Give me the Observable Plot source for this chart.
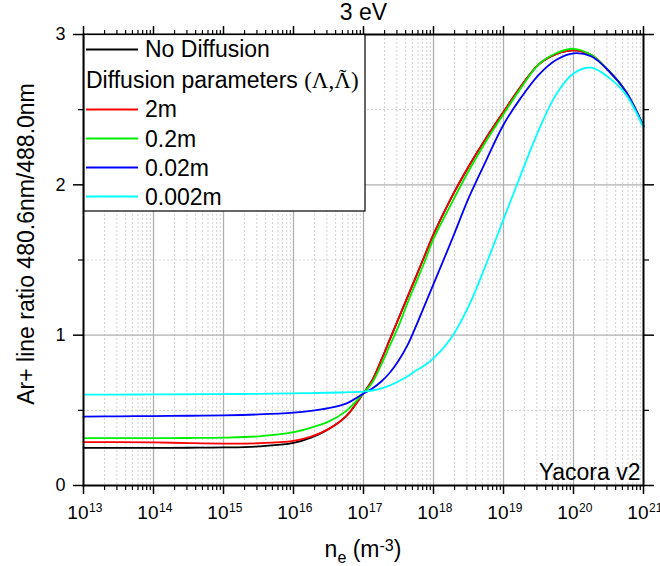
<!DOCTYPE html>
<html>
<head>
<meta charset="utf-8">
<script src="https://cdn.jsdelivr.net/npm/d3@7"></script>
<script src="https://cdn.jsdelivr.net/npm/@observablehq/plot@0.6"></script>
<style>
  body { margin: 0; background: #fff; }
  svg { display: block; }
</style>
</head>
<body>
<div id="chart"></div>
<script>
// ---- data (log10 of n_e in m^-3, and line ratio values) ----
const exponents = [13, 13.5, 14, 14.5, 15, 15.5, 16, 16.25, 16.5, 16.75, 17, 17.125, 17.25, 17.375, 17.5, 17.625, 17.75, 17.875, 18, 18.25, 18.5, 18.75, 19, 19.25, 19.5, 19.75, 20, 20.25, 20.5, 20.75, 21];
const noDiffusion = [0.250, 0.250, 0.250, 0.251, 0.253, 0.260, 0.283, 0.318, 0.375, 0.46, 0.615, 0.70, 0.83, 0.97, 1.11, 1.25, 1.39, 1.53, 1.67, 1.91, 2.12, 2.31, 2.485, 2.655, 2.80, 2.87, 2.895, 2.865, 2.76, 2.62, 2.39];
const diff2m = [0.288, 0.289, 0.287, 0.282, 0.279, 0.281, 0.297, 0.325, 0.375, 0.46, 0.615, 0.70, 0.83, 0.97, 1.11, 1.25, 1.39, 1.53, 1.67, 1.91, 2.12, 2.31, 2.485, 2.655, 2.80, 2.87, 2.895, 2.865, 2.76, 2.62, 2.39];
const diff02m = [0.315, 0.315, 0.315, 0.316, 0.318, 0.327, 0.355, 0.385, 0.425, 0.495, 0.615, 0.685, 0.80, 0.93, 1.06, 1.21, 1.35, 1.49, 1.64, 1.87, 2.09, 2.29, 2.47, 2.645, 2.80, 2.875, 2.905, 2.865, 2.76, 2.62, 2.39];
const diff002m = [0.458, 0.460, 0.462, 0.464, 0.467, 0.473, 0.485, 0.497, 0.515, 0.545, 0.612, 0.645, 0.69, 0.75, 0.83, 0.93, 1.06, 1.20, 1.34, 1.62, 1.91, 2.16, 2.40, 2.58, 2.73, 2.83, 2.875, 2.855, 2.76, 2.62, 2.39];
const diff0002m = [0.605, 0.605, 0.606, 0.607, 0.608, 0.610, 0.613, 0.615, 0.617, 0.620, 0.625, 0.632, 0.645, 0.665, 0.693, 0.725, 0.765, 0.80, 0.845, 0.98, 1.19, 1.47, 1.77, 2.07, 2.36, 2.60, 2.74, 2.78, 2.715, 2.60, 2.38];

const seriesNames = ["No Diffusion", "2m", "0.2m", "0.02m", "0.002m"];
const seriesColors = ["#000000", "#ff0000", "#00ee00", "#0000ff", "#00ffff"];
const seriesValues = [noDiffusion, diff2m, diff02m, diff002m, diff0002m];

const xDecades = [13, 14, 15, 16, 17, 18, 19, 20, 21];
const yTicks = [0, 1, 2, 3];
const yMinorTicks = [0.5, 1.5, 2.5];

const titleText = "3 eV";
const yLabel = "Ar+ line ratio 480.6nm/488.0nm";
const watermark = "Yacora v2";
const legendHeader = "Diffusion parameters ";

// ---- derived tables ----
const rows = [];
seriesValues.forEach((vals, i) => {
  vals.forEach((v, j) => rows.push({ series: seriesNames[i], ne: Math.pow(10, exponents[j]), ratio: v }));
});
const xMajor = xDecades.map(e => Math.pow(10, e));
const xMinor = [];
xDecades.slice(0, -1).forEach(e => { for (let k = 2; k <= 9; k++) xMinor.push(k * Math.pow(10, e)); });

const FONT = "'Liberation Sans', Arial, sans-serif";
const SERIF = "'Liberation Serif', 'Times New Roman', serif";

const plot = Plot.plot({
  width: 660,
  height: 566,
  marginLeft: 83,
  marginRight: 17,
  marginTop: 34,
  marginBottom: 81,
  style: { fontFamily: FONT, background: "#fff", color: "#000" },
  x: { type: "log", domain: [1e13, 1e21], axis: null },
  y: { domain: [0, 3], axis: null },
  color: { domain: seriesNames, range: seriesColors },
  marks: [
    // grid
    Plot.ruleX(xMinor, { stroke: "#d2d2d2", strokeDasharray: "2,2", strokeWidth: 1 }),
    Plot.ruleY(yMinorTicks, { stroke: "#d2d2d2", strokeDasharray: "2,2", strokeWidth: 1 }),
    Plot.ruleX(xMajor.slice(1, -1), { stroke: "#b0b0b0", strokeWidth: 1.3 }),
    Plot.ruleY([1, 2], { stroke: "#b0b0b0", strokeWidth: 1.3 }),
    // curves
    Plot.line(rows, { x: "ne", y: "ratio", z: "series", stroke: "series", curve: "catmull-rom", strokeWidth: 1.8 }),
    // axes
    Plot.axisX({ anchor: "bottom", ticks: xMajor, tickSize: 9, tickFormat: () => "", label: null, strokeWidth: 1.5 }),
    Plot.axisX({ anchor: "bottom", ticks: xMinor, tickSize: 5, tickFormat: () => "", label: null, strokeWidth: 1.2 }),
    Plot.axisX({ anchor: "top", ticks: xMajor, tickSize: 9, tickFormat: () => "", label: null, strokeWidth: 1.5 }),
    Plot.axisX({ anchor: "top", ticks: xMinor, tickSize: 5, tickFormat: () => "", label: null, strokeWidth: 1.2 }),
    Plot.axisY({ anchor: "left", ticks: yTicks, tickSize: 10, tickPadding: 8, fontSize: 18, tickFormat: d => String(d), label: null, strokeWidth: 1.5 }),
    Plot.axisY({ anchor: "left", ticks: yMinorTicks, tickSize: 5, tickFormat: () => "", label: null, strokeWidth: 1.2 }),
    Plot.axisY({ anchor: "right", ticks: yTicks, tickSize: 10, tickFormat: () => "", label: null, strokeWidth: 1.5 }),
    Plot.axisY({ anchor: "right", ticks: yMinorTicks, tickSize: 5, tickFormat: () => "", label: null, strokeWidth: 1.2 }),
    Plot.frame({ stroke: "#000", strokeWidth: 2 }),
    // x tick labels 10^n
    Plot.text(xMajor, { x: d => d, frameAnchor: "bottom", dy: 33, dx: 5, text: () => "10", textAnchor: "end", lineAnchor: "bottom", fontSize: 19 }),
    Plot.text(xMajor, { x: d => d, frameAnchor: "bottom", dy: 26, dx: 5.5, text: d => String(Math.round(Math.log10(d))), textAnchor: "start", lineAnchor: "bottom", fontSize: 12 }),
    // title and labels
    Plot.text([titleText], { text: d => d, frameAnchor: "top", dy: -15, lineAnchor: "bottom", fontSize: 23 }),
    Plot.text([yLabel], { text: d => d, frameAnchor: "left", rotate: -90, dx: -50, dy: -16, lineAnchor: "bottom", textAnchor: "middle", fontSize: 23 }),
    Plot.text([watermark], { text: d => d, frameAnchor: "bottom-right", dx: -3, dy: -6, textAnchor: "end", lineAnchor: "bottom", fontSize: 23 })
  ]
});

document.getElementById("chart").appendChild(plot);

// ---- x-axis title with sub/superscripts ----
const svg = d3.select(plot);
const xl = svg.append("text")
  .attr("x", 363).attr("y", 557)
  .attr("text-anchor", "middle")
  .attr("font-family", FONT)
  .attr("font-size", 23)
  .attr("fill", "#000");
xl.append("tspan").text("n");
xl.append("tspan").attr("font-size", 16).attr("dy", 6).text("e");
xl.append("tspan").attr("dy", -6).text(" (m");
xl.append("tspan").attr("font-size", 16).attr("dy", -6).text("-3");
xl.append("tspan").attr("dy", 6).text(")");

// ---- legend ----
const lg = svg.append("g")
  .attr("font-family", FONT).attr("font-size", 23).attr("fill", "#000")
  .attr("text-anchor", "start");
lg.append("rect").attr("x", 84).attr("y", 34.5).attr("width", 281).attr("height", 176.5)
  .attr("fill", "#fff").attr("stroke", "#000").attr("stroke-width", 1.2);
const entryY = [49.5, null, 109.5, 138.5, 167.5, 196.5];
const textY = [57, 88, 117, 146.5, 175.5, 204.5];
const entries = [
  { label: seriesNames[0], color: seriesColors[0] },
  null,
  { label: seriesNames[1], color: seriesColors[1] },
  { label: seriesNames[2], color: seriesColors[2] },
  { label: seriesNames[3], color: seriesColors[3] },
  { label: seriesNames[4], color: seriesColors[4] }
];
entries.forEach((e, i) => {
  if (e) {
    lg.append("line").attr("x1", 86).attr("x2", 138).attr("y1", entryY[i]).attr("y2", entryY[i])
      .attr("stroke", e.color).attr("stroke-width", 2);
    lg.append("text").attr("x", 145).attr("y", textY[i]).text(e.label);
  } else {
    const t = lg.append("text").attr("x", 86).attr("y", textY[i]);
    t.append("tspan").text(legendHeader);
    t.append("tspan").attr("font-family", SERIF).text("(\u039B,\u039B)");
    // tilde over the second Lambda
    const node = t.node();
    const full = node.textContent;
    const idx = full.lastIndexOf("\u039B");
    let cx = 340;
    try {
      const ext = node.getExtentOfChar(idx);
      cx = ext.x + ext.width / 2;
    } catch (err) {}
    lg.append("text").attr("x", cx).attr("y", textY[i] - 4)
      .attr("text-anchor", "middle").attr("font-family", SERIF).attr("font-size", 22)
      .text("\u02DC");
  }
});
</script>
</body>
</html>
